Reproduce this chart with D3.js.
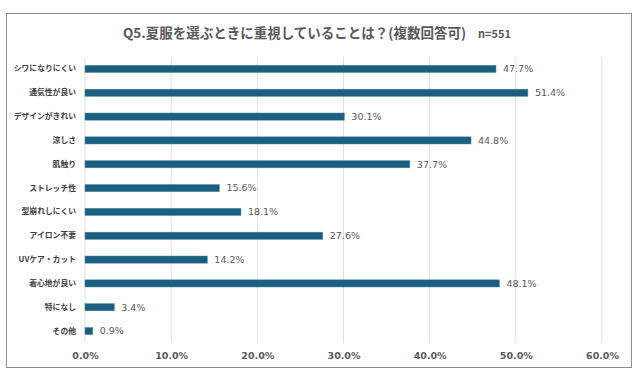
<!DOCTYPE html>
<html>
<head>
<meta charset="utf-8">
<script src="https://cdn.jsdelivr.net/npm/d3@7"></script>
<style>
  body { margin: 0; background: #fff; }
  text { font-family: "Noto Sans CJK JP", "Noto Sans", sans-serif; }
</style>
</head>
<body>
<svg></svg>
<script>
// Chart data
const categories = ["シワになりにくい", "通気性が良い", "デザインがきれい", "涼しさ", "肌触り", "ストレッチ性",
  "型崩れしにくい", "アイロン不要", "UVケア・カット", "着心地が良い", "特になし", "その他"];
const values = [47.7, 51.4, 30.1, 44.8, 37.7, 15.6, 18.1, 27.6, 14.2, 48.1, 3.4, 0.9];
const ticks = [0, 10, 20, 30, 40, 50, 60];

const svgWidth = 641;
const svgHeight = 377;
const margin = { top: 57, right: 39, bottom: 35, left: 85 };

const root = d3.select("svg")
    .attr("width", svgWidth)
    .attr("height", svgHeight);

// Outer frame
root.append("rect")
    .attr("x", 6.5).attr("y", 13.5)
    .attr("width", 625).attr("height", 354)
    .attr("fill", "#fff")
    .attr("stroke", "#8c8c8c");

// Title
const title = root.append("text")
    .attr("x", 317)
    .attr("y", 38)
    .attr("text-anchor", "middle")
    .attr("fill", "#595959")
    .attr("font-weight", "bold");
title.append("tspan").attr("font-size", "13.5px").text("Q5.夏服を選ぶときに重視していることは？(複数回答可)");
title.append("tspan").attr("font-size", "11px").attr("dx", 12).text("n=551");

const svg = root.append("g")
    .attr("transform", `translate(${margin.left}, ${margin.top})`);

// Scales
const xScale = d3.scaleLinear()
    .domain([0, 60])
    .range([0, 517]);

const yScale = d3.scaleBand()
    .domain(categories)
    .range([0, 286])
    .paddingInner(0.7)
    .paddingOuter(0.35);

// Gridlines
svg.append("g")
    .selectAll("line")
    .data(ticks)
    .enter()
    .append("line")
    .attr("x1", d => xScale(d))
    .attr("x2", d => xScale(d))
    .attr("y1", 0)
    .attr("y2", 286)
    .attr("stroke", "#e0e0e0")
    .attr("stroke-width", 1);

// X axis
const xAxis = d3.axisBottom(xScale)
    .tickValues(ticks)
    .tickSize(0)
    .tickPadding(9)
    .tickFormat(d => d.toFixed(1) + "%");

svg.append("g")
    .attr("class", "x-axis")
    .attr("transform", `translate(0, 286)`)
    .call(xAxis)
    .call(g => g.select(".domain").remove())
    .selectAll("text")
    .attr("fill", "#595959")
    .attr("font-weight", "bold")
    .style("font-family", "'DejaVu Sans', sans-serif")
    .style("font-size", "9.5px");

// Y axis
const yAxis = d3.axisLeft(yScale)
    .tickSize(0)
    .tickPadding(9);

svg.append("g")
    .attr("class", "y-axis")
    .call(yAxis)
    .call(g => g.select(".domain").remove())
    .selectAll("text")
    .attr("fill", "#404040")
    .attr("font-weight", "bold")
    .style("font-size", "7.8px");

// Bars
svg.selectAll(".bar")
    .data(values)
    .enter()
    .append("rect")
    .attr("class", "bar")
    .attr("x", xScale(0))
    .attr("y", (d, i) => yScale(categories[i]))
    .attr("width", d => xScale(d))
    .attr("height", yScale.bandwidth())
    .attr("fill", "#1b5e7e")
    .attr("stroke", "#4a8aa8")
    .attr("stroke-width", 0.5);

// Value labels
svg.selectAll(".label")
    .data(values)
    .enter()
    .append("text")
    .attr("class", "label")
    .attr("x", d => xScale(d) + 7)
    .attr("y", (d, i) => yScale(categories[i]) + yScale.bandwidth() / 2)
    .attr("dy", "0.35em")
    .attr("fill", "#595959")
    .style("font-family", "'DejaVu Sans', sans-serif")
    .style("font-size", "9.5px")
    .text(d => d.toFixed(1) + "%");
</script>
</body>
</html>
